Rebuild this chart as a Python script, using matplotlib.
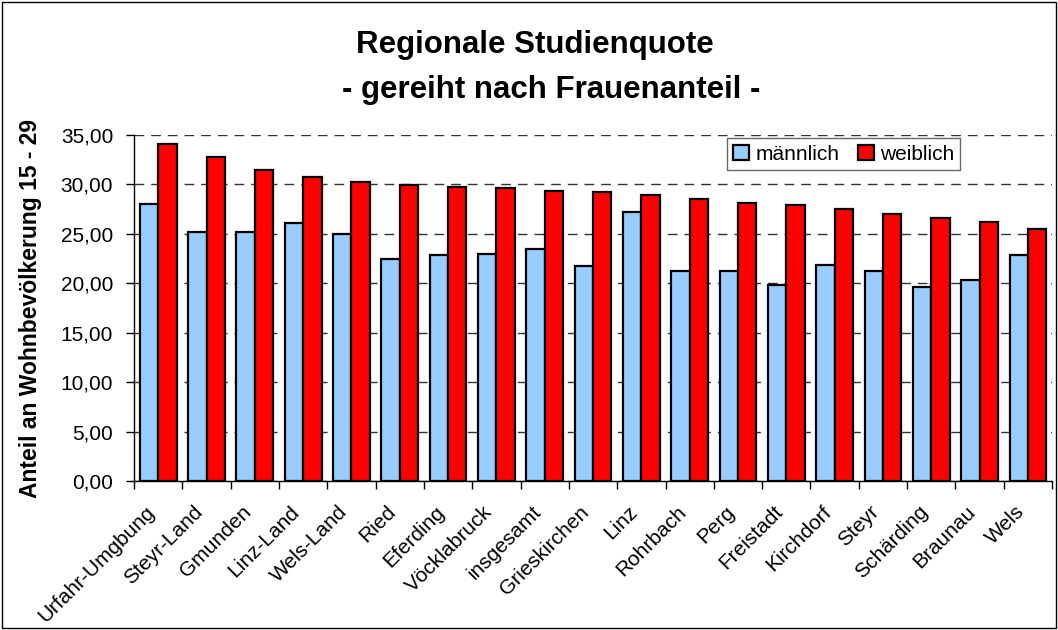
import matplotlib
matplotlib.use('Agg')
import matplotlib.pyplot as plt
from matplotlib.patches import Rectangle
from matplotlib.ticker import FuncFormatter
import numpy as np

plt.rcParams['font.family'] = ['Liberation Sans', 'DejaVu Sans']
plt.rcParams['lines.scale_dashes'] = False

regions = ['Urfahr-Umgbung', 'Steyr-Land', 'Gmunden', 'Linz-Land', 'Wels-Land',
           'Ried', 'Eferding', 'Vöcklabruck', 'insgesamt', 'Grieskirchen', 'Linz',
           'Rohrbach', 'Perg', 'Freistadt', 'Kirchdorf', 'Steyr', 'Schärding',
           'Braunau', 'Wels']
maennlich = [28.0, 25.2, 25.2, 26.1, 24.95, 22.5, 22.9, 23.0, 23.5, 21.7, 27.2,
             21.2, 21.2, 19.8, 21.8, 21.2, 19.6, 20.35, 22.9]
weiblich = [34.1, 32.8, 31.5, 30.8, 30.2, 29.9, 29.7, 29.6, 29.3, 29.2, 28.9,
            28.5, 28.1, 27.9, 27.5, 27.0, 26.6, 26.2, 25.45]

blue = '#99CCFF'
red = '#FF0000'

fig = plt.figure(figsize=(10.58, 6.3), dpi=100)
ax = fig.add_axes([0.1267, 0.2365, 0.8677, 0.5492])

x = np.arange(len(regions))
w = 0.38
ax.bar(x - w / 2, maennlich, w, color=blue, edgecolor='black', linewidth=1.6,
       label='männlich', zorder=3)
ax.bar(x + w / 2, weiblich, w, color=red, edgecolor='black', linewidth=1.6,
       label='weiblich', zorder=3)

ax.set_xlim(-0.5, len(regions) - 0.5)
ax.set_ylim(0, 35)
ax.set_yticks(np.arange(0, 36, 5))
ax.yaxis.set_major_formatter(FuncFormatter(lambda v, p: f'{v:.2f}'.replace('.', ',')))
ax.tick_params(axis='y', labelsize=15, length=6, width=1, pad=9)

# ticks between the groups, labels at the group centres
ax.set_xticks(np.arange(len(regions) + 1) - 0.5)
ax.set_xticklabels([])
ax.tick_params(axis='x', which='major', length=6, width=1)
ax.set_xticks(x, minor=True)
ax.set_xticklabels(regions, minor=True, rotation=45, ha='right', va='bottom',
                   rotation_mode='anchor', fontsize=15)
ax.tick_params(axis='x', which='minor', length=0, pad=25)

ax.grid(axis='y', color='#333333', linewidth=1, linestyle=(0, (7, 5)), zorder=0)
for s in ['top', 'right']:
    ax.spines[s].set_visible(False)
ax.spines['left'].set_linewidth(1)
ax.spines['bottom'].set_linewidth(1)

ax.set_ylabel('Anteil an Wohnbevölkerung 15 - 29', fontsize=16.5, fontweight='bold')
ax.yaxis.set_label_coords(-0.100, 0.5)

leg = ax.legend(loc='upper left', bbox_to_anchor=(0.646, 0.99), ncol=2,
                fontsize=15, frameon=True, fancybox=False, borderaxespad=0,
                handlelength=0.75, handleheight=0.75, handletextpad=0.3,
                columnspacing=0.9, borderpad=0.3)
leg.get_frame().set_edgecolor('#404040')
leg.get_frame().set_linewidth(1)

fig.text(535 / 1058, 1 - 45 / 630, 'Regionale Studienquote', ha='center',
         va='center', fontsize=22.5, fontweight='bold')
fig.text(551 / 1058, 1 - 90 / 630, '- gereiht nach Frauenanteil -', ha='center',
         va='center', fontsize=22.5, fontweight='bold')

fig.patches.append(Rectangle((0.002, 0.003), 0.996, 0.994, transform=fig.transFigure,
                             fill=False, edgecolor='black', linewidth=1))

fig.savefig('out.png', dpi=100)
